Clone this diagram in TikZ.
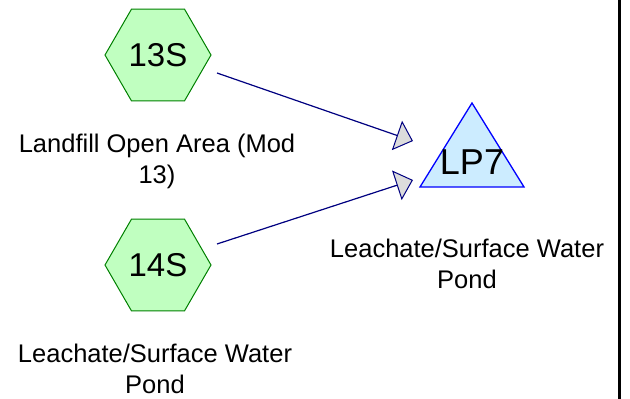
\documentclass[tikz,border=0pt]{standalone}
\usepackage{fontspec}
\setmainfont{Liberation Sans}
\usepackage{tikz}
\usetikzlibrary{arrows.meta}
\usetikzlibrary{shapes.geometric}
\usetikzlibrary{positioning}
\definecolor{subfill}{RGB}{192,255,192}
\definecolor{subdraw}{RGB}{0,128,0}
\definecolor{pondfill}{RGB}{204,236,255}
\definecolor{ponddraw}{RGB}{0,0,255}
\definecolor{linkdraw}{RGB}{0,0,128}
\definecolor{tipfill}{RGB}{220,220,220}
\tikzset{
  subcat/.style={regular polygon, regular polygon sides=6, minimum size=106pt,
    inner sep=0pt, draw=subdraw, fill=subfill, line width=1pt,
    font=\fontsize{33}{36}\selectfont},
  pondshape/.style={draw=ponddraw, fill=pondfill, line width=1.3pt},
  caption/.style={align=center, font=\fontsize{25.5}{31}\selectfont, inner sep=0pt},
  link/.style={draw=linkdraw, line width=1.2pt,
    -{Triangle[length=17pt, width=31pt, fill=tipfill, line width=1pt]}}
}
\begin{document}
\begin{tikzpicture}[x=1pt, y=-1pt]
    \useasboundingbox (0,0) rectangle (630,399);
    \node[subcat] (s13) at (158,55) {13S};
    \node[subcat] (s14) at (158,265) {14S};
    \draw[pondshape] (420,187) -- (472,103) -- (524,187) -- cycle;
    \node[font=\fontsize{36}{40}\selectfont, inner sep=0pt] (p7) at (472,162) {LP7};

    % base = baseline of the last line
    \node[caption, anchor=base] (s13cap) at (157,183) {Landfill Open Area (Mod\\13)};
    \node[caption, anchor=base] (s14cap) at (155,393) {Leachate/Surface Water\\Pond};
    \node[caption, anchor=base] (p7cap) at (467,288) {Leachate/Surface Water\\Pond};

    \coordinate (s13out) at (217,73);
    \coordinate (s14out) at (217,244);
    \coordinate (p7in1) at (413,141);
    \coordinate (p7in2) at (413,180);
    \draw[link] (s13out) -- (p7in1);
    \draw[link] (s14out) -- (p7in2);

    \draw[line width=3pt] (619,0) -- (619,399);
  \end{tikzpicture}
\end{document}
